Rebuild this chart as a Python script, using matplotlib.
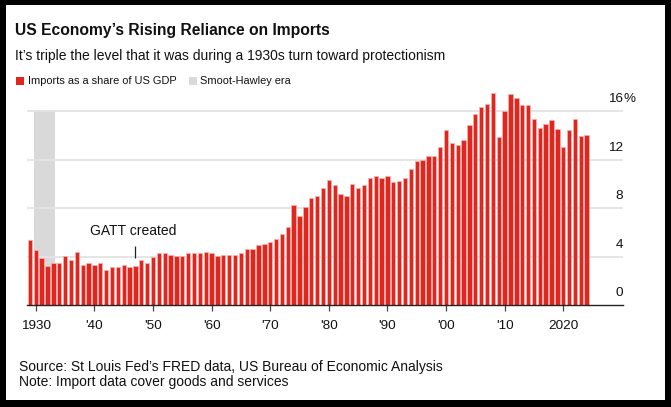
import matplotlib
matplotlib.use("Agg")
import matplotlib.pyplot as plt
from matplotlib import font_manager
from matplotlib.patches import Rectangle
from matplotlib.transforms import ScaledTranslation, blended_transform_factory

# ---------------- data ----------------
years = list(range(1929, 2025))
import_share = [
    5.37, 4.55, 3.86, 3.25, 3.44, 3.44, 4.02, 3.75, 4.35, 3.33,   # 1929-1938
    3.44, 3.33, 3.44, 2.87, 3.11, 3.11, 3.33, 3.11, 3.25, 3.75,   # 1939-1948
    3.44, 3.94, 4.27, 4.27, 4.13, 4.02, 4.02, 4.27, 4.27, 4.27,   # 1949-1958
    4.35, 4.27, 4.02, 4.16, 4.16, 4.16, 4.27, 4.63, 4.63, 4.96,   # 1959-1968
    5.04, 5.23, 5.45, 5.87, 6.42, 8.26, 7.38, 8.12, 8.86, 9.00,   # 1969-1978
    9.64, 10.36, 9.94, 9.14, 9.03, 10.03, 9.64, 9.94, 10.53, 10.64,  # 1979-1988
    10.53, 10.64, 10.14, 10.25, 10.53, 11.27, 11.86, 11.97, 12.35, 12.35,  # 1989-1998
    13.05, 14.46, 13.38, 13.24, 13.66, 14.88, 15.82, 16.37, 16.59, 17.50,  # 1999-2008
    13.88, 16.01, 17.42, 17.09, 16.51, 16.51, 15.37, 14.65, 14.99, 15.26,  # 2009-2018
    14.57, 13.05, 14.46, 15.37, 13.96, 14.07,                      # 2019-2024
]
xtick_years = [1930, 1940, 1950, 1960, 1970, 1980, 1990, 2000, 2010, 2020]
xtick_labels = ["1930", "'40", "'50", "'60", "'70", "'80", "'90", "'00", "'10", "2020"]
ytick_values = [0, 4, 8, 12, 16]
ytick_labels = ["0", "4", "8", "12", "16"]
smoot_hawley = (1930, 1933)
gatt_year = 1947

title = "US Economy\u2019s Rising Reliance on Imports"
subtitle = "It\u2019s triple the level that it was during a 1930s turn toward protectionism"
legend_labels = ["Imports as a share of US GDP", "Smoot-Hawley era"]
source = "Source: St Louis Fed\u2019s FRED data, US Bureau of Economic Analysis"
note = "Note: Import data cover goods and services"

# ---------------- style ----------------
RED = "#e0271f"
EDGE = "#f4b5b2"
BAND = "#d9d9d9"
GRID = "#e3e3e3"
TXT = "#111111"
FONT = "Liberation Sans"
plt.rcParams["font.family"] = [FONT, "DejaVu Sans"]

names = {f.name for f in font_manager.fontManager.ttflist}
if "Liberation Sans Narrow" in names:
    NARROW = "Liberation Sans Narrow"
    k = 1.0
else:
    NARROW = FONT
    k = 0.83  # shrink to match the narrower head font

W, H = 671, 407
fig = plt.figure(figsize=(W / 100, H / 100), dpi=100, facecolor="black")
# white card inside black frame
fig.patches.append(Rectangle((6 / W, 7 / H), (665 - 6) / W, (400 - 5) / H,
                             transform=fig.transFigure, facecolor="white",
                             edgecolor="none", zorder=0))

# axes placement (pixels)
x_left, x_right = 27, 623
y_zero = 305
px_per_unit = 12.1
ymax = 18.3
y_top = y_zero - ymax * px_per_unit
ax = fig.add_axes([x_left / W, (H - y_zero) / H, (x_right - x_left) / W,
                   (y_zero - y_top) / H])
ax.set_zorder(2)
ax.set_facecolor("none")
ax.set_xlim(1928.5, 2030.2)
ax.set_ylim(0, ymax)

# band
ax.axvspan(smoot_hawley[0] - 0.35, smoot_hawley[1] + 0.35, ymin=0,
           ymax=16.1 / ymax, color=BAND, lw=0, zorder=1)
# grid
for v in ytick_values[1:]:
    ax.axhline(v, color=GRID, lw=1.3, zorder=1.5)

ax.bar(years, import_share, width=0.74, color=RED, edgecolor=EDGE,
       linewidth=0.5, zorder=2)

for s in ["top", "right", "left"]:
    ax.spines[s].set_visible(False)
ax.spines["bottom"].set_color("#222222")
ax.spines["bottom"].set_linewidth(1.0)
ax.spines["bottom"].set_zorder(3)

ax.set_yticks([])
ax.set_xticks(xtick_years)
ax.set_xticklabels(xtick_labels, fontsize=9.7, color=TXT)
ax.tick_params(axis="x", length=4, width=0.9, color="#444444", pad=7)

# y labels above gridlines, right aligned at axes right edge
tr = blended_transform_factory(ax.transAxes, ax.transData)
off = ScaledTranslation(0, 12 / 100, fig.dpi_scale_trans)
for v, lab in zip(ytick_values, ytick_labels):
    ax.text(1.0, v, lab, transform=tr + off, ha="right", va="center",
            fontsize=9.7, color=TXT)
ax.text(1.0, 16, "%", transform=tr + off, ha="left", va="center",
        fontsize=9.7, color=TXT)

# GATT annotation
ax.plot([gatt_year, gatt_year], [3.9, 4.85], color="#222222", lw=0.9,
        zorder=4, solid_capstyle="butt")
ax.text(gatt_year - 0.3, 5.5, "GATT created", ha="center", va="bottom",
        fontsize=10, color=TXT)

# titles
fig.text(15 / W, 1 - 30 / H, title, fontsize=13.6 * k, fontweight="bold",
         family=[NARROW, "DejaVu Sans"], ha="left", va="center", color=TXT)
fig.text(15 / W, 1 - 56 / H, subtitle, fontsize=12.0 * k,
         family=[NARROW, "DejaVu Sans"], ha="left", va="center", color=TXT)

# legend
fig.patches.append(Rectangle((16 / W, 1 - 85 / H), 8 / W, 8 / H,
                             transform=fig.transFigure, facecolor=RED,
                             edgecolor="none", zorder=3))
fig.text(28 / W, 1 - 80.5 / H, legend_labels[0], fontsize=9.6 * k,
         family=[NARROW, "DejaVu Sans"], ha="left", va="center", color=TXT)
fig.patches.append(Rectangle((189 / W, 1 - 85 / H), 8 / W, 8 / H,
                             transform=fig.transFigure, facecolor=BAND,
                             edgecolor="none", zorder=3))
fig.text(200 / W, 1 - 80.5 / H, legend_labels[1], fontsize=9.6 * k,
         family=[NARROW, "DejaVu Sans"], ha="left", va="center", color=TXT)

# footer
fig.text(19 / W, 1 - 367 / H, source, fontsize=10, ha="left", va="center",
         color=TXT)
fig.text(19 / W, 1 - 382 / H, note, fontsize=10, ha="left", va="center",
         color=TXT)

fig.savefig("out.png", dpi=100, facecolor="black")
